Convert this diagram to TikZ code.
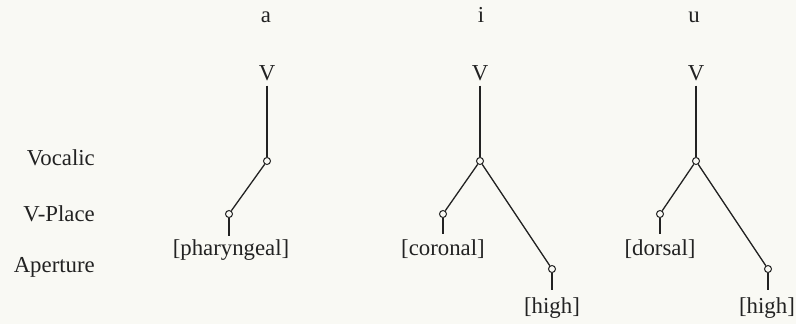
\documentclass[tikz,border=0pt]{standalone}
\usepackage{fontspec}
\setmainfont{Liberation Serif}
\definecolor{paper}{RGB}{249,249,244}
\definecolor{ink}{RGB}{34,34,34}
\begin{document}
\begin{tikzpicture}[x=1pt,y=-1pt,
  every node/.style={text=ink,font=\fontsize{22.8}{27}\selectfont},
  txt/.style={inner sep=0pt,anchor=base},
  tierlbl/.style={inner sep=0pt,anchor=base east},
  dot/.style={circle,draw=ink,line width=1pt,minimum size=7pt,inner sep=0pt,fill=paper},
  branch/.style={draw=ink,line width=1.3pt},
]
\useasboundingbox[fill=paper] (0,0) rectangle (796,324);
% tier labels
\node[tierlbl] (tv) at (95,165) {Vocalic};
\node[tierlbl] (tp) at (95,221) {V-Place};
\node[tierlbl] (ta) at (95,272) {Aperture};
% vowel labels
\node[txt] (la) at (266,23) {a};
\node[txt] (li) at (481,23) {i};
\node[txt] (lu) at (694,23) {u};
% V nodes
\node[txt] (Va) at (267,80) {V};
\node[txt] (Vi) at (480,80) {V};
\node[txt] (Vu) at (696,80) {V};
% Vocalic nodes
\node[dot] (ca) at (267,161) {};
\node[dot] (ci) at (480,161) {};
\node[dot] (cu) at (696,161) {};
% place nodes
\node[dot] (pa) at (229,214) {};
\node[dot] (pi) at (443,214) {};
\node[dot] (pu) at (660,214) {};
% aperture nodes
\node[dot] (hi) at (552,269) {};
\node[dot] (hu) at (768,269) {};
% feature labels
\node[txt] (fa) at (231,255) {[pharyngeal]};
\node[txt] (fi) at (443,255) {[coronal]};
\node[txt] (fu) at (660,255) {[dorsal]};
\node[txt] (fhi) at (552,313) {[high]};
\node[txt] (fhu) at (767,313) {[high]};
% connectors
\begin{scope}[every path/.style={branch}]
\draw[shorten <=5pt] (Va.south) -- (ca);
\draw[shorten <=5pt] (Vi.south) -- (ci);
\draw[shorten <=5pt] (Vu.south) -- (cu);
\draw (ca) -- (pa);
\draw (ci) -- (pi);
\draw (cu) -- (pu);
\draw (ci) -- (hi);
\draw (cu) -- (hu);
\draw (pa) -- (pa |- 0,236);
\draw (pi) -- (pi |- 0,234);
\draw (pu) -- (pu |- 0,234);
\draw (hi) -- (hi |- 0,290);
\draw (hu) -- (hu |- 0,290);
\end{scope}
\end{tikzpicture}
\end{document}
